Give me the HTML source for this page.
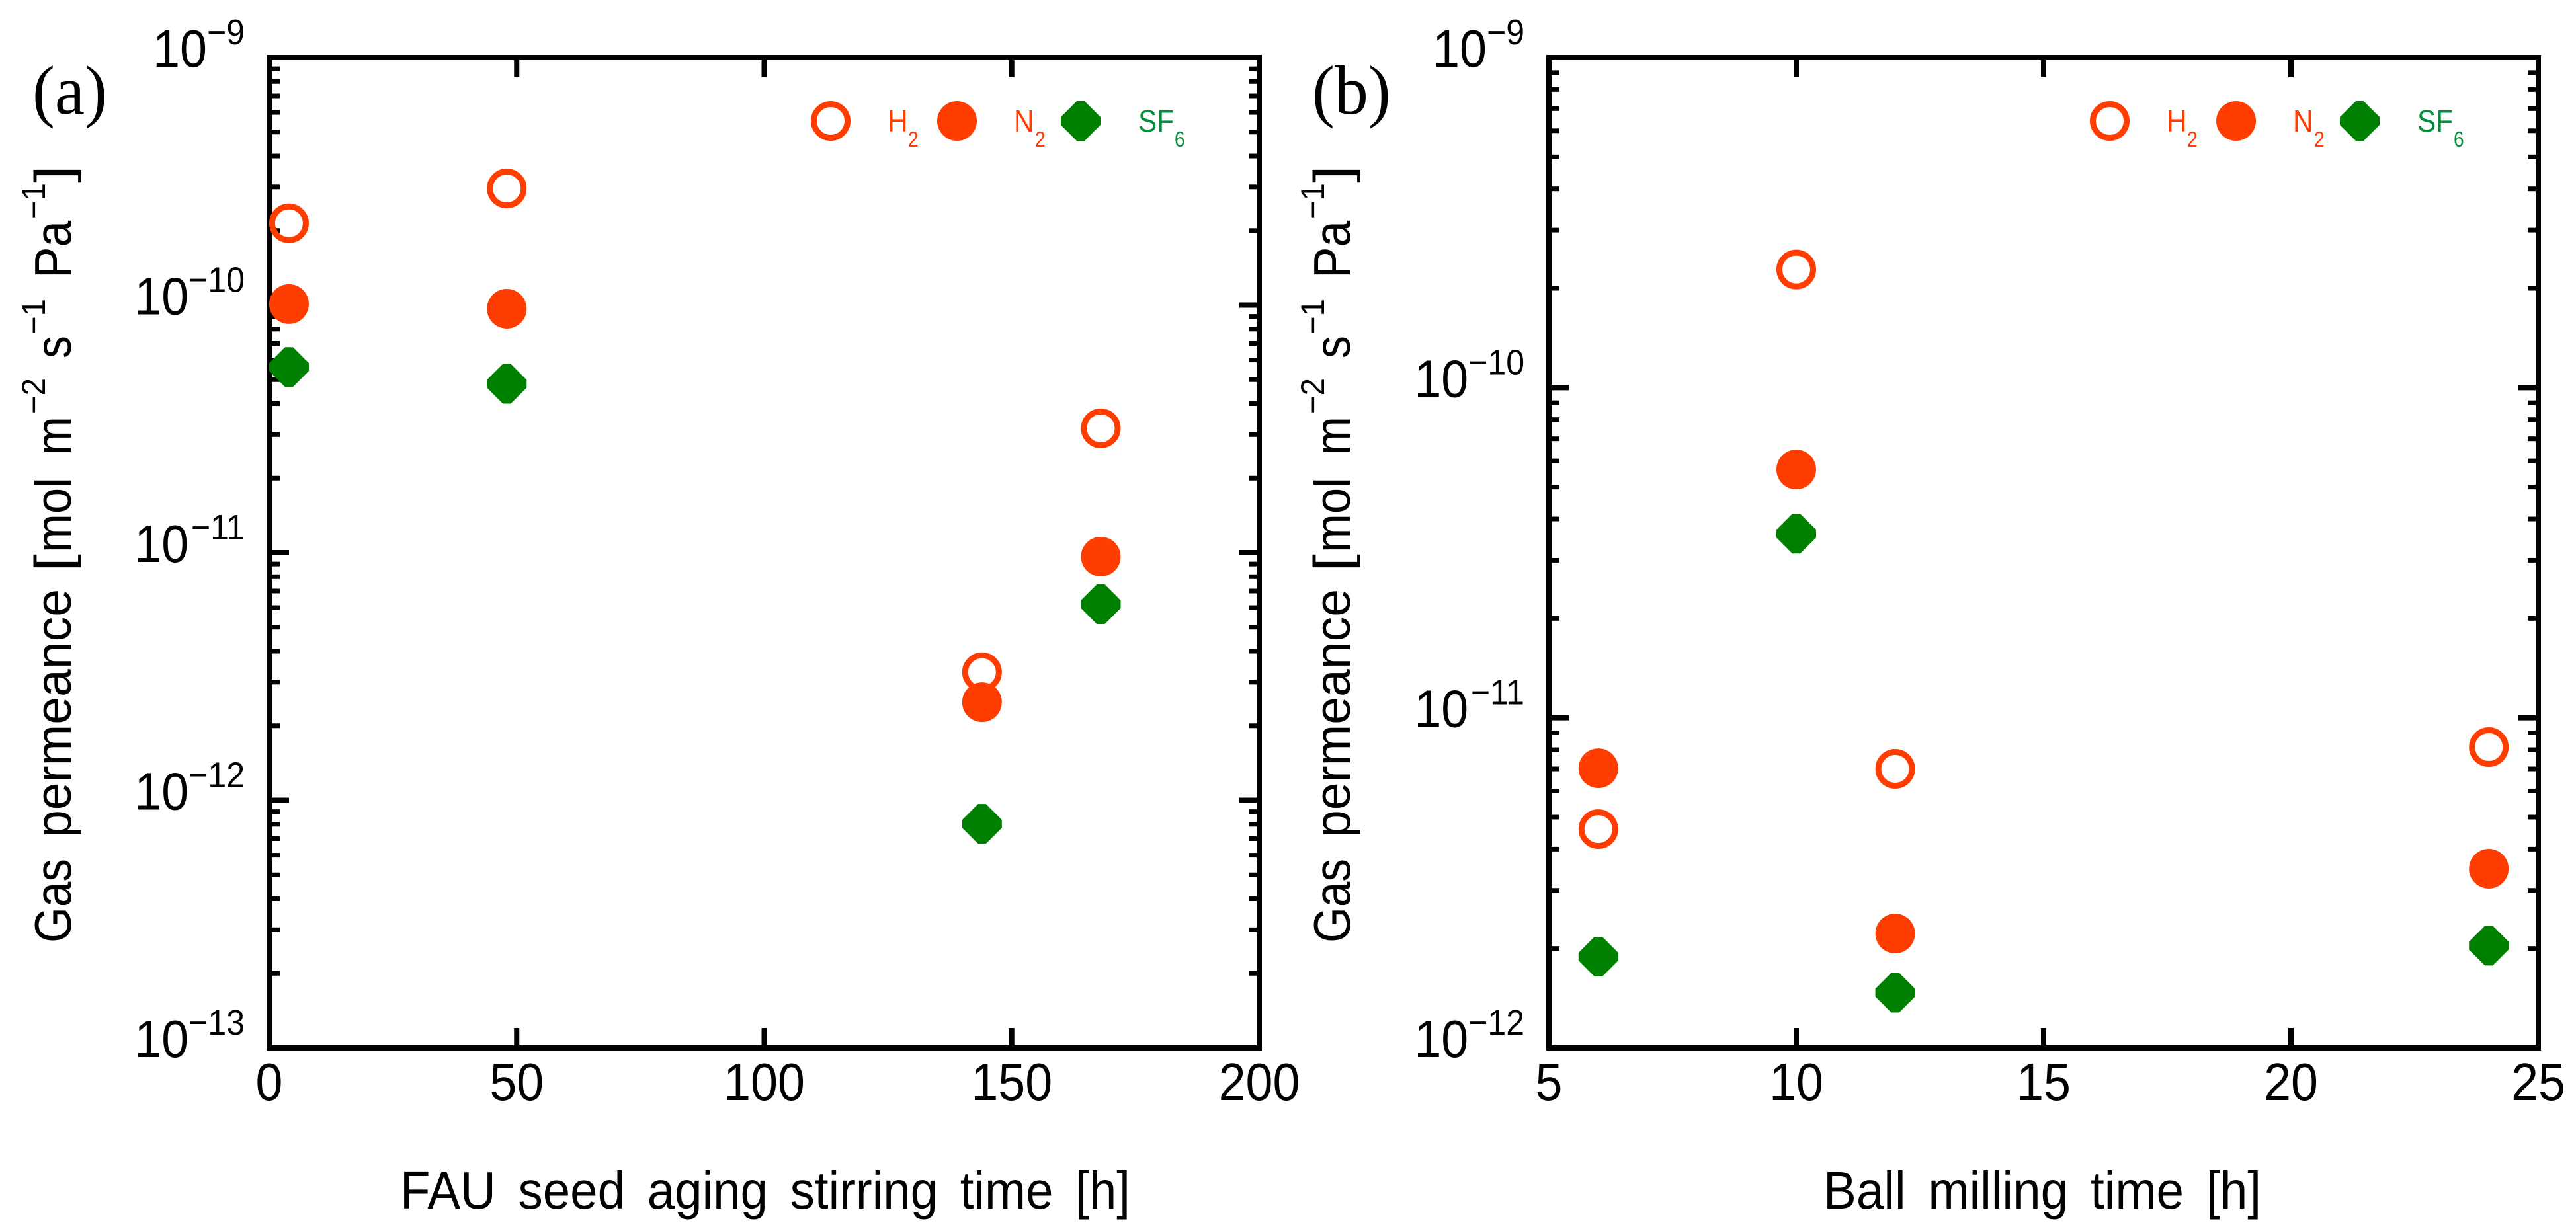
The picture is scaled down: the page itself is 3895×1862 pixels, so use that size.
<!DOCTYPE html>
<html lang="en">
<head>
<meta charset="utf-8">
<title>Gas permeance charts</title>
<style>
html,body{margin:0;padding:0;background:#fff;overflow:hidden;}
svg{display:block;}
text{font-family:"Liberation Sans",sans-serif;fill:#000;}
.orange{fill:#ff3d00;}
.green{fill:#00903c;}
</style>
</head>
<body>
<svg id="figure" xmlns="http://www.w3.org/2000/svg" width="3895" height="1862" viewBox="0 0 3895 1862">
  <rect x="0" y="0" width="3895" height="1862" fill="#ffffff"/>

  <text transform="translate(49,172) scale(0.97,1)" font-size="105" style="font-family:'Liberation Serif',serif">(a)</text>
  <text transform="translate(1984,172) scale(0.97,1)" font-size="105" style="font-family:'Liberation Serif',serif">(b)</text>

  <text x="605" y="1828" font-size="80" style="word-spacing:14px" textLength="1104" lengthAdjust="spacingAndGlyphs">FAU seed aging stirring time [h]</text>
  <text x="2757" y="1828" font-size="80" style="word-spacing:14px" textLength="662" lengthAdjust="spacingAndGlyphs">Ball milling time [h]</text>

  <g>
    <text transform="translate(107,1426) rotate(-90)" font-size="78" textLength="127" lengthAdjust="spacingAndGlyphs">Gas</text>
    <text transform="translate(107,1267) rotate(-90)" font-size="76" textLength="376" lengthAdjust="spacingAndGlyphs">permeance</text>
    <text transform="translate(107,865) rotate(-90)" font-size="78" textLength="27" lengthAdjust="spacingAndGlyphs">[</text>
    <text transform="translate(107,836) rotate(-90)" font-size="76" textLength="114" lengthAdjust="spacingAndGlyphs">mol</text>
    <text transform="translate(107,688) rotate(-90)" font-size="76" textLength="58" lengthAdjust="spacingAndGlyphs">m</text>
    <text transform="translate(68,626) rotate(-90)" font-size="50" textLength="54" lengthAdjust="spacingAndGlyphs">−2</text>
    <text transform="translate(107,542) rotate(-90)" font-size="76" textLength="34" lengthAdjust="spacingAndGlyphs">s</text>
    <text transform="translate(68,506) rotate(-90)" font-size="50" textLength="54" lengthAdjust="spacingAndGlyphs">−1</text>
    <text transform="translate(107,421) rotate(-90)" font-size="78" textLength="87" lengthAdjust="spacingAndGlyphs">Pa</text>
    <text transform="translate(68,331) rotate(-90)" font-size="50" textLength="54" lengthAdjust="spacingAndGlyphs">−1</text>
    <text transform="translate(107,277) rotate(-90)" font-size="78" textLength="27" lengthAdjust="spacingAndGlyphs">]</text>
  </g>
  <g transform="translate(1934,0)">
    <text transform="translate(107,1426) rotate(-90)" font-size="78" textLength="127" lengthAdjust="spacingAndGlyphs">Gas</text>
    <text transform="translate(107,1267) rotate(-90)" font-size="76" textLength="376" lengthAdjust="spacingAndGlyphs">permeance</text>
    <text transform="translate(107,865) rotate(-90)" font-size="78" textLength="27" lengthAdjust="spacingAndGlyphs">[</text>
    <text transform="translate(107,836) rotate(-90)" font-size="76" textLength="114" lengthAdjust="spacingAndGlyphs">mol</text>
    <text transform="translate(107,688) rotate(-90)" font-size="76" textLength="58" lengthAdjust="spacingAndGlyphs">m</text>
    <text transform="translate(68,626) rotate(-90)" font-size="50" textLength="54" lengthAdjust="spacingAndGlyphs">−2</text>
    <text transform="translate(107,542) rotate(-90)" font-size="76" textLength="34" lengthAdjust="spacingAndGlyphs">s</text>
    <text transform="translate(68,506) rotate(-90)" font-size="50" textLength="54" lengthAdjust="spacingAndGlyphs">−1</text>
    <text transform="translate(107,421) rotate(-90)" font-size="78" textLength="87" lengthAdjust="spacingAndGlyphs">Pa</text>
    <text transform="translate(68,331) rotate(-90)" font-size="50" textLength="54" lengthAdjust="spacingAndGlyphs">−1</text>
    <text transform="translate(107,277) rotate(-90)" font-size="78" textLength="27" lengthAdjust="spacingAndGlyphs">]</text>
  </g>

  <g id="legend-a">
    <circle cx="1256" cy="183" r="25.5" fill="none" stroke="#ff3d00" stroke-width="9"/>
    <text class="orange" transform="translate(1342,199) scale(0.92,1)" font-size="46">H</text>
    <text class="orange" transform="translate(1373,222) scale(0.85,1)" font-size="33">2</text>
    <circle cx="1447" cy="183" r="30" fill="#ff3d00"/>
    <text class="orange" transform="translate(1533,199) scale(0.92,1)" font-size="46">N</text>
    <text class="orange" transform="translate(1565,222) scale(0.85,1)" font-size="33">2</text>
    <polygon fill="#008000" points="1604,177 1628,153 1640,153 1664,177 1664,189 1640,213 1628,213 1604,189"/>
    <text class="green" transform="translate(1721,199) scale(0.92,1)" font-size="46">SF</text>
    <text class="green" transform="translate(1776,222) scale(0.85,1)" font-size="33">6</text>
  </g>
  <g id="legend-b" transform="translate(1934,0)">
    <circle cx="1256" cy="183" r="25.5" fill="none" stroke="#ff3d00" stroke-width="9"/>
    <text class="orange" transform="translate(1342,199) scale(0.92,1)" font-size="46">H</text>
    <text class="orange" transform="translate(1373,222) scale(0.85,1)" font-size="33">2</text>
    <circle cx="1447" cy="183" r="30" fill="#ff3d00"/>
    <text class="orange" transform="translate(1533,199) scale(0.92,1)" font-size="46">N</text>
    <text class="orange" transform="translate(1565,222) scale(0.85,1)" font-size="33">2</text>
    <polygon fill="#008000" points="1604,177 1628,153 1640,153 1664,177 1664,189 1640,213 1628,213 1604,189"/>
    <text class="green" transform="translate(1721,199) scale(0.92,1)" font-size="46">SF</text>
    <text class="green" transform="translate(1776,222) scale(0.85,1)" font-size="33">6</text>
  </g>
</svg>

<script>
// Panel (a) data
const aTimes = [4, 48, 144, 168];
const aH2 = [2.14e-10, 2.96e-10, 3.29e-12, 3.18e-11];
const aN2 = [1.01e-10, 9.67e-11, 2.49e-12, 9.64e-12];
const aSF6 = [5.62e-11, 4.81e-11, 8.03e-13, 6.19e-12];
const aXTicks = [0, 50, 100, 150, 200];
const aYExponents = [-9, -10, -11, -12, -13];

// Panel (b) data
const bTimes = [6, 10, 12, 24];
const bH2 = [4.6e-12, 2.28e-10, 7.0e-12, 8.15e-12];
const bN2 = [7.03e-12, 5.65e-11, 2.22e-12, 3.49e-12];
const bSF6 = [1.89e-12, 3.61e-11, 1.47e-12, 2.04e-12];
const bXTicks = [5, 10, 15, 20, 25];
const bYExponents = [-9, -10, -11, -12];

const minorMultipliers = [2, 3, 4, 5, 6, 7, 8, 9];
const SVG_NS = 'http://www.w3.org/2000/svg';
const figure = document.getElementById('figure');

function linearAxis(domainMin, domainMax, pixelMin, pixelMax) {
  return function (v) {
    return pixelMin + (v - domainMin) / (domainMax - domainMin) * (pixelMax - pixelMin);
  };
}
function logAxis(expTop, expBottom, pixelTop, pixelBottom) {
  return function (v) {
    return pixelTop + (expTop - Math.log10(v)) / (expTop - expBottom) * (pixelBottom - pixelTop);
  };
}
function make(tag, parent) {
  const node = document.createElementNS(SVG_NS, tag);
  parent.appendChild(node);
  return node;
}
function drawTick(parent, x1, y1, x2, y2, width) {
  const tick = make('line', parent);
  
  
  tick.setAttribute('x1', x1);
  tick.setAttribute('y1', y1);
  tick.setAttribute('x2', x2);
  tick.setAttribute('y2', y2);
  tick.setAttribute('stroke', '#000');
  tick.setAttribute('stroke-width', width);
}
function drawScaledText(parent, x, y, size, sx, anchor, content) {
  const t = make('text', parent);
  
  
  t.setAttribute('transform', 'translate(' + x + ',' + y + ') scale(' + sx + ',1)');
  t.setAttribute('font-size', size);
  t.setAttribute('text-anchor', anchor);
  t.textContent = content;
  return t;
}
function drawOpenCircles(parent, xs, ys, X, Y) {
  xs.forEach(function (x, i) {
    const c = make('circle', parent);
    
    
    c.setAttribute('cx', X(x));
    c.setAttribute('cy', Y(ys[i]));
    c.setAttribute('r', 25.5);
    c.setAttribute('fill', 'none');
    c.setAttribute('stroke', '#ff3d00');
    c.setAttribute('stroke-width', 9);
  });
}
function drawFilledCircles(parent, xs, ys, X, Y) {
  xs.forEach(function (x, i) {
    const c = make('circle', parent);
    
    
    c.setAttribute('cx', X(x));
    c.setAttribute('cy', Y(ys[i]));
    c.setAttribute('r', 30);
    c.setAttribute('fill', '#ff3d00');
  });
}
function drawDiamonds(parent, xs, ys, X, Y) {
  xs.forEach(function (x, i) {
    const cx = X(x);
    const cy = Y(ys[i]);
    const outer = 30;
    const flat = 6;
    const p = make('polygon', parent);
    
    
    p.setAttribute('fill', '#008000');
    p.setAttribute('points', [
      [cx - outer, cy - flat], [cx - flat, cy - outer], [cx + flat, cy - outer], [cx + outer, cy - flat],
      [cx + outer, cy + flat], [cx + flat, cy + outer], [cx - flat, cy + outer], [cx - outer, cy + flat]
    ].map(function (q) { return q.join(','); }).join(' '));
  });
}
function drawPanel(name, left, right, top, bottom, xMin, xMax, xTicks, yExps, times, h2, n2, sf6) {
  const X = linearAxis(xMin, xMax, left, right);
  const Y = logAxis(yExps[0], yExps[yExps.length - 1], top, bottom);

  const g = make('g', figure);
  
  

  const frame = make('rect', g);
  
  
  frame.setAttribute('x', left);
  frame.setAttribute('y', top);
  frame.setAttribute('width', right - left);
  frame.setAttribute('height', bottom - top);
  frame.setAttribute('fill', 'none');
  frame.setAttribute('stroke', '#000');
  frame.setAttribute('stroke-width', 8);

  xTicks.forEach(function (v) {
    const px = X(v);
    if (v !== xMin && v !== xMax) {
      drawTick(g, px, top, px, top + 30, 8);
      drawTick(g, px, bottom, px, bottom - 30, 8);
    }
    drawScaledText(g, px, 1664, 80, 0.92, 'middle', String(v));
  });

  yExps.forEach(function (e, i) {
    const base = Math.pow(10, e);
    const py = Y(base);
    if (i > 0 && i < yExps.length - 1) {
      drawTick(g, left, py, left + 30, py, 8);
      drawTick(g, right, py, right - 30, py, 8);
    }
    if (i < yExps.length - 1) {
      minorMultipliers.forEach(function (m) {
        const my = Y(base / 10 * m);
        drawTick(g, left, my, left + 16, my, 7);
        drawTick(g, right, my, right - 16, my, 7);
      });
    }
    const expText = '\u2212' + Math.abs(e);
    const supEnd = left - 37;
    const supAdvance = (0.584 + 0.556 * String(Math.abs(e)).length) * 50;
    drawScaledText(g, supEnd, py - 20, 54, 0.926, 'end', expText);
    drawScaledText(g, supEnd - supAdvance, py + 14, 80, 0.92, 'end', '10');
  });

  drawOpenCircles(g, times, h2, X, Y);
  drawFilledCircles(g, times, n2, X, Y);
  drawDiamonds(g, times, sf6, X, Y);
}

drawPanel('a', 407, 1904, 87, 1585, 0, 200, aXTicks, aYExponents, aTimes, aH2, aN2, aSF6);
drawPanel('b', 2342, 3838, 87, 1585, 5, 25, bXTicks, bYExponents, bTimes, bH2, bN2, bSF6);
</script>
</body>
</html>
